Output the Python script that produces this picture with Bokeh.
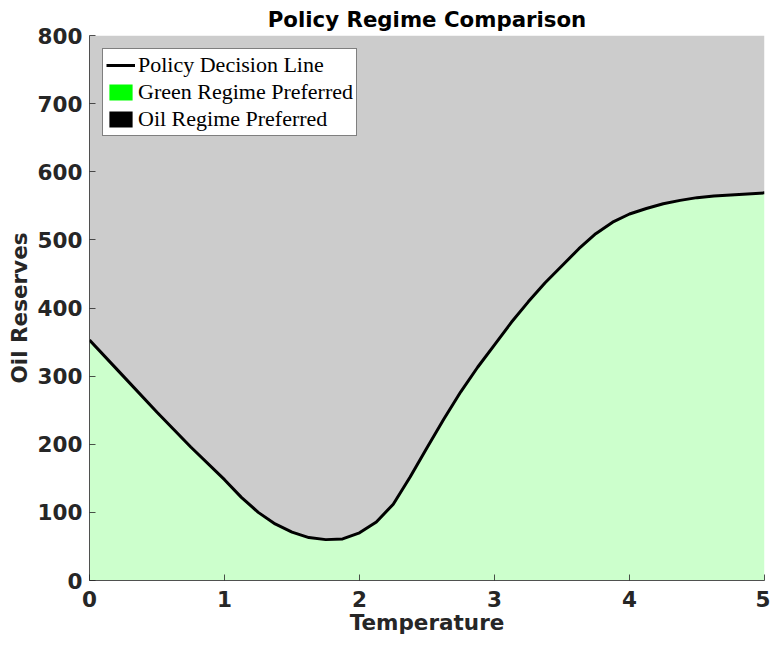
from bokeh.plotting import figure
from bokeh.models import Range1d, Legend, LegendItem, FixedTicker
from bokeh.embed import file_html
from bokeh.resources import INLINE

# Data
temperature = [0, 0.25, 0.5, 0.75, 1.0, 1.125, 1.25, 1.375, 1.5, 1.625, 1.75, 1.875,
               2.0, 2.125, 2.25, 2.375, 2.5, 2.625, 2.75, 2.875, 3.0, 3.125, 3.25,
               3.375, 3.5, 3.625, 3.75, 3.875, 4.0, 4.125, 4.25, 4.375, 4.5, 4.625,
               4.75, 5.0]
decision_line = [353, 300, 247, 196, 148, 122, 100, 83, 71, 63, 60, 61,
                 70, 86, 112, 152, 195, 237, 277, 313, 346, 379, 409,
                 437, 462, 487, 509, 526, 538, 546, 553, 558, 562, 564.5,
                 566, 569]
y_max = 800
x_ticks = [0, 1, 2, 3, 4, 5]
y_ticks = [0, 100, 200, 300, 400, 500, 600, 700, 800]

title_text = "Policy Regime Comparison"
x_label = "Temperature"
y_label = "Oil Reserves"
legend_labels = ["Policy Decision Line", "Green Regime Preferred", "Oil Regime Preferred"]

NAN = float("nan")

p = figure(width=770, height=638, output_backend="svg", toolbar_location=None,
           x_range=Range1d(0, 5), y_range=Range1d(0, y_max),
           min_border_left=89, min_border_right=6, min_border_top=35, min_border_bottom=58)

p.title.text = title_text
p.title.align = "center"
p.title.text_font = "DejaVu Sans"
p.title.text_font_style = "bold"
p.title.text_font_size = "21.3px"
p.title.text_color = "#000000"
p.title.text_line_height = 1.0
p.title.standoff = 8

p.background_fill_color = "white"
p.border_fill_color = "white"
p.outline_line_color = None
p.xgrid.visible = False
p.ygrid.visible = False

green_fill = p.varea(x=temperature, y1=[0] * len(temperature), y2=decision_line,
                     fill_color="#00ff00", fill_alpha=0.2)
oil_fill = p.varea(x=temperature, y1=decision_line, y2=[y_max] * len(temperature),
                   fill_color="#000000", fill_alpha=0.2)
line = p.line(temperature, decision_line, line_color="black", line_width=3)

# legend proxies drawn in full colour (no visible marks)
green_proxy = p.quad(left=[NAN], right=[NAN], bottom=[NAN], top=[NAN],
                     fill_color="#00ff00", fill_alpha=1.0, line_color=None)
oil_proxy = p.quad(left=[NAN], right=[NAN], bottom=[NAN], top=[NAN],
                   fill_color="#000000", fill_alpha=1.0, line_color=None)

legend = Legend(items=[
    LegendItem(label=legend_labels[0], renderers=[line]),
    LegendItem(label=legend_labels[1], renderers=[green_proxy]),
    LegendItem(label=legend_labels[2], renderers=[oil_proxy]),
], location="top_left", margin=13, padding=3, spacing=1,
    glyph_width=29, glyph_height=20, label_height=20, label_standoff=3,
    label_text_font="Liberation Serif", label_text_font_size="22px",
    label_text_line_height=1.0,
    label_text_color="#000000", border_line_color="#000000", border_line_width=1,
    background_fill_color="white", background_fill_alpha=1.0)
p.add_layout(legend)

for ax in (p.xaxis[0], p.yaxis[0]):
    ax.axis_line_color = "#262626"
    ax.axis_line_alpha = 0.8
    ax.axis_line_width = 1
    ax.major_tick_line_color = "#262626"
    ax.major_tick_line_alpha = 0.8
    ax.major_tick_in = 6
    ax.major_tick_out = 0
    ax.minor_tick_line_color = None
    ax.major_label_text_font = "DejaVu Sans"
    ax.major_label_text_font_style = "bold"
    ax.major_label_text_font_size = "21.5px"
    ax.major_label_text_color = "#262626"
    ax.major_label_text_line_height = 1.0
    ax.axis_label_text_font = "DejaVu Sans"
    ax.axis_label_text_font_style = "bold"
    ax.axis_label_text_font_size = "21.5px"
    ax.axis_label_text_color = "#262626"
    ax.axis_label_text_line_height = 1.0

p.xaxis.ticker = FixedTicker(ticks=x_ticks)
p.yaxis.ticker = FixedTicker(ticks=y_ticks)
p.xaxis.axis_label = x_label
p.yaxis.axis_label = y_label
p.xaxis.major_label_standoff = 10
p.yaxis.major_label_standoff = 7
p.xaxis.axis_label_standoff = 0
p.yaxis.axis_label_standoff = 3

open("out.html", "w").write(file_html(p, INLINE))
